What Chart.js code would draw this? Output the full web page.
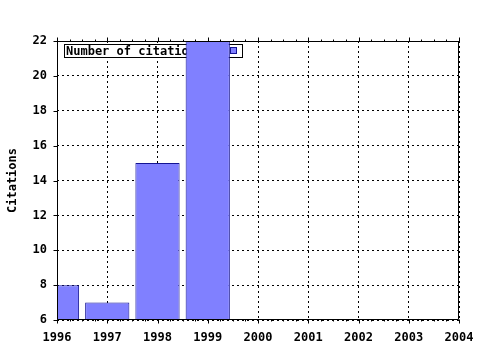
<!DOCTYPE html>
<html>
<head>
<meta charset="utf-8">
<script src="https://cdn.jsdelivr.net/npm/chart.js@4/dist/chart.umd.min.js"></script>
<style>
  html, body { margin: 0; padding: 0; background: #fff; }
  #wrap { width: 480px; height: 350px; }
</style>
</head>
<body>
<div id="wrap"><canvas id="citeChart" width="480" height="350"></canvas></div>
<script>
// data
const years = [1996, 1997, 1998, 1999];
const citations = [8, 7, 15, 22];
const seriesLabel = "Number of citations";
const yearRange = [1996, 2004];
const citeRange = [6, 22];

const FONT = { family: "'DejaVu Sans Mono', 'Liberation Mono', monospace", size: 12, weight: "bold" };
const BAR_FILL = "#8080ff";
const BAR_EDGE = "#141494";

// legend box sits under the bars, so draw it before datasets
const boxLegend = {
  id: "boxLegend",
  beforeDatasetsDraw(chart) {
    const { ctx, chartArea } = chart;
    ctx.save();
    ctx.font = `${FONT.weight} ${FONT.size}px ${FONT.family}`;
    const x0 = chartArea.left + 7, y0 = chartArea.top + 3;
    const tw = ctx.measureText(seriesLabel).width;
    const sqX = Math.round(x0 + 2 + tw + 27);
    const w = sqX + 6 + 6 - x0;
    ctx.fillStyle = "#fff";
    ctx.fillRect(x0, y0, w, 13);
    ctx.strokeStyle = "#000";
    ctx.lineWidth = 1;
    ctx.strokeRect(x0 + 0.5, y0 + 0.5, w, 13);
    ctx.fillStyle = "#000";
    ctx.textBaseline = "middle";
    ctx.fillText(seriesLabel, x0 + 2, y0 + 7.5);
    ctx.fillStyle = BAR_FILL;
    ctx.fillRect(sqX, y0 + 3, 6, 6);
    ctx.strokeStyle = BAR_EDGE;
    ctx.strokeRect(sqX + 0.5, y0 + 3.5, 6, 6);
    ctx.restore();
  }
};

// frame and tick marks on top of the bars
const frameTicks = {
  id: "frameTicks",
  afterDatasetsDraw(chart) {
    const { ctx, chartArea: a, scales } = chart;
    const xs = scales.x, ys = scales.y;
    ctx.save();
    ctx.strokeStyle = "#000";
    ctx.lineWidth = 1;
    const L = Math.round(a.left) + 0.5, R = Math.round(a.right) - 0.5;
    const T = Math.round(a.top) + 0.5, B = Math.round(a.bottom) - 0.5;
    ctx.beginPath();
    ctx.moveTo(L, T); ctx.lineTo(R, T); ctx.lineTo(R, B); ctx.lineTo(L, B); ctx.closePath();
    for (let v = yearRange[0]; v <= yearRange[1] + 1e-9; v += 0.25) {
      const px = Math.round(xs.getPixelForValue(v)) + 0.5;
      const major = Math.abs(v - Math.round(v)) < 1e-9;
      const len = major ? 4 : 2;
      ctx.moveTo(px, B); ctx.lineTo(px, B + len);
      ctx.moveTo(px, T); ctx.lineTo(px, T - len);
    }
    for (let v = citeRange[0]; v <= citeRange[1]; v += 2) {
      const py = Math.round(ys.getPixelForValue(v)) + 0.5;
      ctx.moveTo(L - 4, py); ctx.lineTo(L, py);
    }
    ctx.stroke();
    ctx.restore();
  }
};

new Chart(document.getElementById("citeChart").getContext("2d"), {
  type: "bar",
  data: {
    datasets: [{
      label: seriesLabel,
      data: years.map((y, i) => ({ x: y, y: citations[i] })),
      backgroundColor: BAR_FILL,
      borderColor: BAR_EDGE,
      borderWidth: 1,
      barPercentage: 0.88,
      categoryPercentage: 1
    }]
  },
  options: {
    responsive: false,
    animation: false,
    layout: { padding: { top: 41, right: 21, left: 0, bottom: 0 } },
    plugins: { legend: { display: false }, tooltip: { enabled: false } },
    scales: {
      x: {
        type: "linear",
        offset: false,
        min: yearRange[0],
        max: yearRange[1],
        afterFit(s) { s.height = 30; s.paddingLeft = 0; s.paddingRight = 0; },
        grid: { color: "#000", lineWidth: 1, drawTicks: false, offset: false },
        border: { display: false, dash: [2, 3] },
        ticks: {
          stepSize: 1,
          padding: 11,
          color: "#000",
          font: FONT,
          maxRotation: 0,
          callback: v => String(v)
        }
      },
      y: {
        min: citeRange[0],
        max: citeRange[1],
        afterFit(s) { s.width = 57; s.paddingTop = 0; s.paddingBottom = 0; },
        grid: { color: "#000", lineWidth: 1, drawTicks: false },
        border: { display: false, dash: [2, 3] },
        ticks: { stepSize: 2, padding: 10, color: "#000", font: FONT },
        title: {
          display: true,
          text: "Citations",
          color: "#000",
          font: FONT,
          padding: { top: 6, bottom: 0 }
        }
      }
    }
  },
  plugins: [boxLegend, frameTicks]
});
</script>
</body>
</html>
